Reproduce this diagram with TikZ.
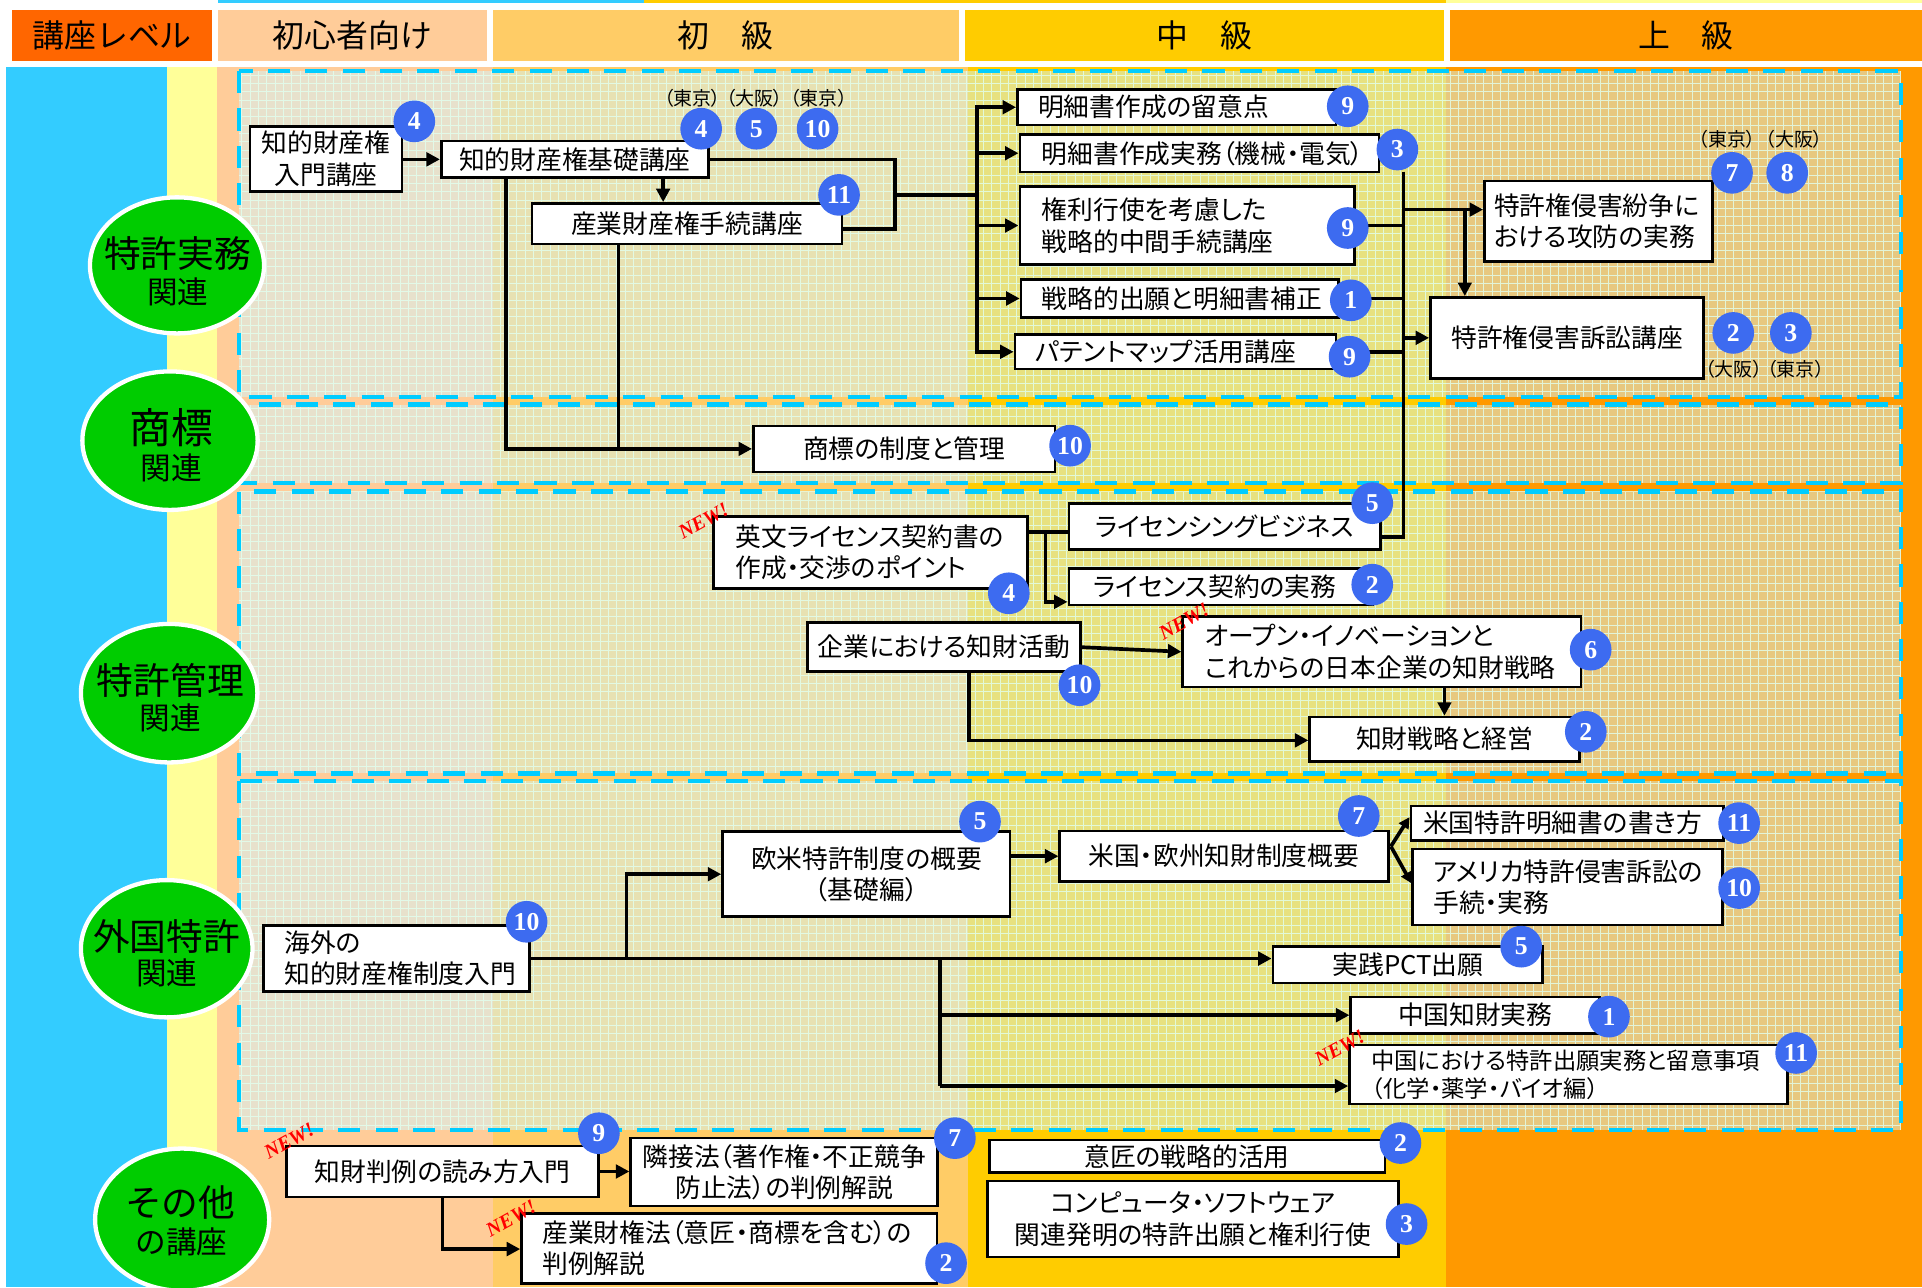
\documentclass[tikz,border=0pt]{standalone}
\usepackage{fontspec}
\usetikzlibrary{arrows.meta,calc,shapes.geometric}
\newfontfamily\jp[RawFeature=+palt]{Noto Sans CJK JP}
\newfontfamily\jpf{Noto Sans CJK JP}
\newfontfamily\numf{Liberation Serif}
\definecolor{cyanbg}{HTML}{33CCFF}
\definecolor{lyel}{HTML}{FFFF99}
\definecolor{peach}{HTML}{FFCC99}
\definecolor{lorange}{HTML}{FFCC66}
\definecolor{yorange}{HTML}{FFCC00}
\definecolor{orng}{HTML}{FF9900}
\definecolor{redor}{HTML}{FF6600}
\definecolor{ogreen}{HTML}{00CC00}
\definecolor{bblue}{HTML}{3D6BF0}
\definecolor{rfillc}{RGB}{209,247,255}
\definecolor{rgridc}{RGB}{225,255,240}
\definecolor{dashc}{HTML}{00CCFF}
\pgfdeclarelayer{bg}
\pgfdeclarelayer{mid}
\pgfsetlayers{bg,mid,main}
\newcommand\myregion[4]{%
  \fill[rfillc,opacity=0.5] (#1,#2) rectangle (#3,#4);
  \begin{scope}
    \clip (#1,#2) rectangle (#3,#4);
    \draw[rgrid] (#1,#2) grid[step=6.8pt] (#3,#4);
  \end{scope}
  \draw[rdash] (#1,#2) rectangle (#3,#4);
}
\begin{document}
\begin{tikzpicture}[x=1pt,y=-1pt,
  box/.style={draw=black,line width=2.2pt,fill=white,inner ysep=0pt,font=\jp\fontsize{21}{25.5}\selectfont},
  cbox/.style={box,align=center,inner xsep=0pt},
  lbox/.style={box,align=left},
  badge/.style={circle,fill=bblue,text=white,minimum size=34pt,inner sep=0pt,font=\numf\bfseries\fontsize{21}{21}\selectfont},
  city/.style={inner sep=0pt,font=\jp\fontsize{15.5}{16}\selectfont},
  newtag/.style={inner sep=0pt,text=red,rotate=29,font=\numf\bfseries\itshape\fontsize{16.5}{16.5}\selectfont},
  greenoval/.style={ellipse,fill=ogreen,draw=white,line width=3.5pt,inner sep=0pt},
  ovbig/.style={inner sep=0pt,font=\jpf\fontsize{30}{30}\selectfont},
  ovsmall/.style={inner sep=0pt,font=\jpf\fontsize{25}{25}\selectfont},
  hdr/.style={inner sep=0pt,font=\jpf\fontsize{26}{26}\selectfont},
  conn/.style={draw=black,line width=3pt},
  arr/.style={conn,-{Triangle[length=11pt,width=11pt]}},
  sarr/.style={conn,-{Triangle[length=9pt,width=9pt]}},
  rdash/.style={draw=dashc,line width=3.4pt,dash pattern=on 18pt off 12.5pt},
  rgrid/.style={draw=rgridc,line width=0.8pt,opacity=0.8},
]
\useasboundingbox (0,0) rectangle (1568,1050);
\begin{pgfonlayer}{bg}
  \fill[white] (0,0) rectangle (1568,1050);
  \fill[cyanbg] (178,0) rectangle (525,2.5);
  \fill[yorange] (525,0) rectangle (1180,2.5);
  \fill[lyel] (1180,0) rectangle (1568,2.5);
  % body columns
  \fill[cyanbg] (5,55) rectangle (136,1050);
  \fill[lyel] (136,55) rectangle (177,1050);
  \fill[peach] (177,55) rectangle (402,1050);
  \fill[lorange] (402,55) rectangle (790,1050);
  \fill[yorange] (790,55) rectangle (1180,1050);
  \fill[orng] (1180,55) rectangle (1568,1050);
  % regions
  \myregion{195}{58}{1551}{324}
  \myregion{195}{330}{1551}{394}
  \myregion{195}{401}{1551}{631}
  \myregion{195}{637}{1551}{922}
\end{pgfonlayer}

% header
\node[hdr,fill=redor,minimum width=163pt,minimum height=42pt] (h1) at (91.5,29) {講座レベル};
\node[hdr,fill=peach,minimum width=219pt,minimum height=42pt] (h2) at (287.5,29) {初心者向け};
\node[hdr,fill=lorange,minimum width=380pt,minimum height=42pt] (h3) at (592,29) {初　級};
\node[hdr,fill=yorange,minimum width=391pt,minimum height=42pt] (h4) at (982.5,29) {中　級};
\node[hdr,fill=orng,minimum width=385pt,minimum height=42pt] (h5) at (1375.5,29) {上　級};

% category ovals
\node[greenoval,minimum width=142pt,minimum height=111pt] (o1) at (144.4,216.5) {};
\node[ovbig] (o1a) at (145,206.5) {特許実務};
\node[ovsmall] (o1b) at (145,238.5) {関連};
\node[greenoval,minimum width=143pt,minimum height=113pt] (o2) at (138.7,359.5) {};
\node[ovbig,font=\jpf\fontsize{34}{34}\selectfont] (o2a) at (140,348.5) {商標};
\node[ovsmall] (o2b) at (140,382) {関連};
\node[greenoval,minimum width=144pt,minimum height=113pt] (o3) at (138,565.5) {};
\node[ovbig] (o3a) at (139,555) {特許管理};
\node[ovsmall] (o3b) at (139,585.5) {関連};
\node[greenoval,minimum width=140pt,minimum height=112pt] (o4) at (136,774) {};
\node[ovbig] (o4a) at (136,764) {外国特許};
\node[ovsmall] (o4b) at (136,794) {関連};
\node[greenoval,minimum width=142pt,minimum height=116pt] (o5) at (148.6,995) {};
\node[ovbig] (o5a) at (147,981) {その他};
\node[ovsmall] (o5b) at (148,1013) {の講座};

% course boxes
\node[cbox,minimum width=124pt,minimum height=53pt] (ent) at (266,129.5) {知的財産権\\入門講座};
\node[cbox,minimum width=218pt,minimum height=30pt] (kiso) at (469,130) {知的財産権基礎講座};
\node[cbox,minimum width=253pt,minimum height=33pt] (tetsu) at (560.5,182.5) {産業財産権手続講座};
\node[lbox,text width=226pt,inner xsep=17pt,minimum height=29pt] (m1) at (960,87.5) {明細書作成の留意点};
\node[lbox,text width=257pt,inner xsep=18pt,minimum height=30.5pt] (m2) at (978.5,125) {明細書作成実務（機械・電気）};
\node[lbox,text width=237pt,inner xsep=18pt,minimum height=64pt] (m3) at (968.5,184) {権利行使を考慮した\\戦略的中間手続講座};
\node[lbox,text width=225pt,inner xsep=17pt,minimum height=31pt] (m4) at (962.5,243.5) {戦略的出願と明細書補正};
\node[lbox,text width=228pt,inner xsep=17pt,minimum height=28pt] (m5) at (959,287) {パテントマップ活用講座};
\node[lbox,text width=170pt,inner xsep=8pt,minimum height=66pt] (f1) at (1304,180.6) {特許権侵害紛争に\\おける攻防の実務};
\node[cbox,minimum width=223pt,minimum height=66pt] (f2) at (1278.5,275.6) {特許権侵害訴訟講座};
\node[cbox,minimum width=246pt,minimum height=37.5pt] (sh) at (737.6,366.2) {商標の制度と管理};
\node[lbox,text width=220pt,inner xsep=18pt,minimum height=58.5pt] (ei) at (710,450.7) {英文ライセンス契約書の\\作成・交渉のポイント};
\node[cbox,minimum width=254pt,minimum height=37.4pt] (lb) at (999,429.3) {ライセンシングビジネス};
\node[lbox,text width=208pt,inner xsep=20pt,minimum height=30pt] (lc) at (996,478.6) {ライセンス契約の実務};
\node[cbox,minimum width=223pt,minimum height=40pt] (ki) at (770,528) {企業における知財活動};
\node[lbox,text width=289pt,inner xsep=18pt,minimum height=57.5pt] (op) at (1127.4,531.7) {オープン・イノベーションと\\これからの日本企業の知財戦略};
\node[cbox,minimum width=220pt,minimum height=36pt] (ks) at (1178.5,603) {知財戦略と経営};
\node[lbox,text width=183pt,inner xsep=17pt,minimum height=54pt] (kg) at (323.5,782) {海外の\\知的財産権制度入門};
\node[cbox,minimum width=234.5pt,minimum height=69.5pt] (ob1) at (706.8,713.2) {欧米特許制度の概要\\（基礎編）};
\node[cbox,minimum width=268pt,minimum height=41pt] (us) at (998.6,698.5) {米国・欧州知財制度概要};
\node[lbox,text width=235pt,inner xsep=10pt,minimum height=28.3pt] (us1) at (1278.5,671.6) {米国特許明細書の書き方};
\node[lbox,text width=218.5pt,inner xsep=17pt,minimum height=62pt] (us2) at (1278.8,723.6) {アメリカ特許侵害訴訟の\\手続・実務};
\node[cbox,minimum width=220pt,minimum height=30pt] (pct) at (1148.5,787) {実践PCT出願};
\node[cbox,minimum width=203pt,minimum height=29.6pt] (cn1) at (1203.5,828.2) {中国知財実務};
\node[lbox,text width=321pt,inner xsep=18pt,minimum height=48pt,font=\jp\fontsize{19}{23}\selectfont] (cn2) at (1279.5,876.6) {中国における特許出願実務と留意事項\\（化学・薬学・バイオ編）};
\node[cbox,minimum width=254pt,minimum height=41.5pt] (hj) at (361,955.7) {知財判例の読み方入門};
\node[cbox,minimum width=250.5pt,minimum height=55.5pt] (rn) at (639.8,956.2) {隣接法（著作権・不正競争\\防止法）の判例解説};
\node[lbox,text width=305pt,inner xsep=17pt,minimum height=57pt] (sz) at (595,1018.4) {産業財権法（意匠・商標を含む）の\\判例解説};
\node[cbox,minimum width=323pt,minimum height=26.7pt] (is) at (968.5,943.3) {意匠の戦略的活用};
\node[cbox,minimum width=335pt,minimum height=62pt] (cp) at (973.3,994.5) {コンピュータ・ソフトウェア\\関連発明の特許出願と権利行使};

% connectors
\begin{pgfonlayer}{mid}
  \draw[arr] (ent.east |- kiso.west) -- (kiso.west);
  \coordinate (k1) at ($(kiso.south)+(72,0)$);
  \draw[arr] (k1) -- (k1 |- tetsu.north);
  \coordinate (jA) at (730,159);
  \coordinate (jB) at (730,187);
  \draw[conn] (kiso.east) -| (jA) -- (jB) -- (jB -| tetsu.east);
  \coordinate (bus) at (797,159);
  \draw[conn] (jA) -- (bus);
  \draw[conn,line cap=rect] (bus |- m1.west) -- (bus |- m5.west);
  \foreach \m in {m1,m2,m3,m4,m5} \draw[arr] (bus |- \m.west) -- (\m.west);
  \coordinate (rx) at (1145,140);
  \coordinate (rx2) at (1145,438);
  \draw[conn] (rx) -- (rx2) -- (rx2 -| lb.east);
  \foreach \m in {m3,m4,m5} \draw[conn] (\m.east) -- (\m.east -| rx);
  \coordinate (rf) at (1145,171);
  \draw[arr] (rf) -- (rf -| f1.west);
  \coordinate (rd) at (1195,171);
  \draw[arr] (rd) -- (rd |- f2.north);
  \draw[arr] (rx |- f2.west) -- (f2.west);
  \coordinate (ta) at ($(kiso.south)+(-56,0)$);
  \coordinate (tb) at ($(tetsu.south)+(-56,0)$);
  \draw[arr] (ta) |- (sh.west);
  \draw[conn] (tb) -- (tb |- sh.west);
  \coordinate (ej) at (853,434);
  \coordinate (ej2) at (853,491);
  \draw[conn] (ej -| ei.east) -- (ej -| lb.west);
  \draw[arr] (ej) -- (ej2) -- (ej2 -| lc.west);
  \draw[arr] (ki.east) -- (op.west);
  \coordinate (kd) at (790.5,604);
  \draw[arr] (kd |- ki.south) -- (kd) -- (kd -| ks.west);
  \coordinate (ob) at ($(op.south)+(51,0)$);
  \draw[arr] (ob) -- (ob |- ks.north);
  \coordinate (fa) at (511,782);
  \coordinate (fb) at (767,782);
  \coordinate (fc) at (767,886);
  \draw[arr] (kg.east |- fa) -- (fa -| pct.west);
  \draw[arr] (fa) |- (ob1.west);
  \draw[conn] (fb) -- (fc);
  \draw[arr] (fb |- cn1.west) -- (cn1.west);
  \draw[arr] (fc) -- (fc -| cn2.west);
  \draw[arr] (ob1.east |- us.west) -- (us.west);
  \coordinate (uj) at ($(us.east)+(1,-8)$);
  \draw[sarr] (uj) -- ($(us1.west)+(0,-5)$);
  \draw[sarr] (uj) -- ($(us2.west)+(0,-3)$);
  \draw[arr] (hj.east) -- (hj.east -| rn.west);
  \coordinate (hb) at (361,1019);
  \draw[arr] (hb |- hj.south) -- (hb) -- (hb -| sz.west);
\end{pgfonlayer}

% badges
\foreach \bx/\by/\bn [count=\bi] in {338/99/4, 572/105/4, 617/105/5, 667/105/10, 684.5/159/11,
  1099.5/86.7/9, 1140/122/3, 1099.5/186/9, 1102/245/1, 1101/291/9,
  1413/141/7, 1458/141/8, 1414/271.6/2, 1461/271.6/3,
  873/363.6/10, 823/484/4, 1119.5/410.5/5, 1119.5/477/2, 880.7/559/10, 1297.7/530/6, 1293.7/597/2,
  429.6/752/10, 799.5/670.3/5, 1108.5/665.7/7, 1418.8/671.5/11, 1418.8/724.5/10, 1241/772.3/5,
  1312.6/829.4/1, 1465.3/859/11,
  488.6/924.5/9, 779/928.5/7, 771.8/1030.5/2, 1142.5/932.5/2, 1147.5/998.6/3}
  \node[badge] (b\bi) at (\bx,\by) {\bn};

% city labels
\node[city] (c1) at (565,80) {（東京）};
\node[city] (c2) at (615.5,80) {（大阪）};
\node[city] (c3) at (668,80) {（東京）};
\node[city] (c4) at (1409,114) {（東京）};
\node[city] (c5) at (1463.7,114) {（大阪）};
\node[city] (c6) at (1414.6,301) {（大阪）};
\node[city] (c7) at (1465,301) {（東京）};

% NEW tags
\node[newtag] (n1) at (574,425) {NEW!};
\node[newtag] (n2) at (966,507) {NEW!};
\node[newtag] (n3) at (1093,855) {NEW!};
\node[newtag] (n4) at (236,931) {NEW!};
\node[newtag] (n5) at (417,994) {NEW!};
\end{tikzpicture}
\end{document}
